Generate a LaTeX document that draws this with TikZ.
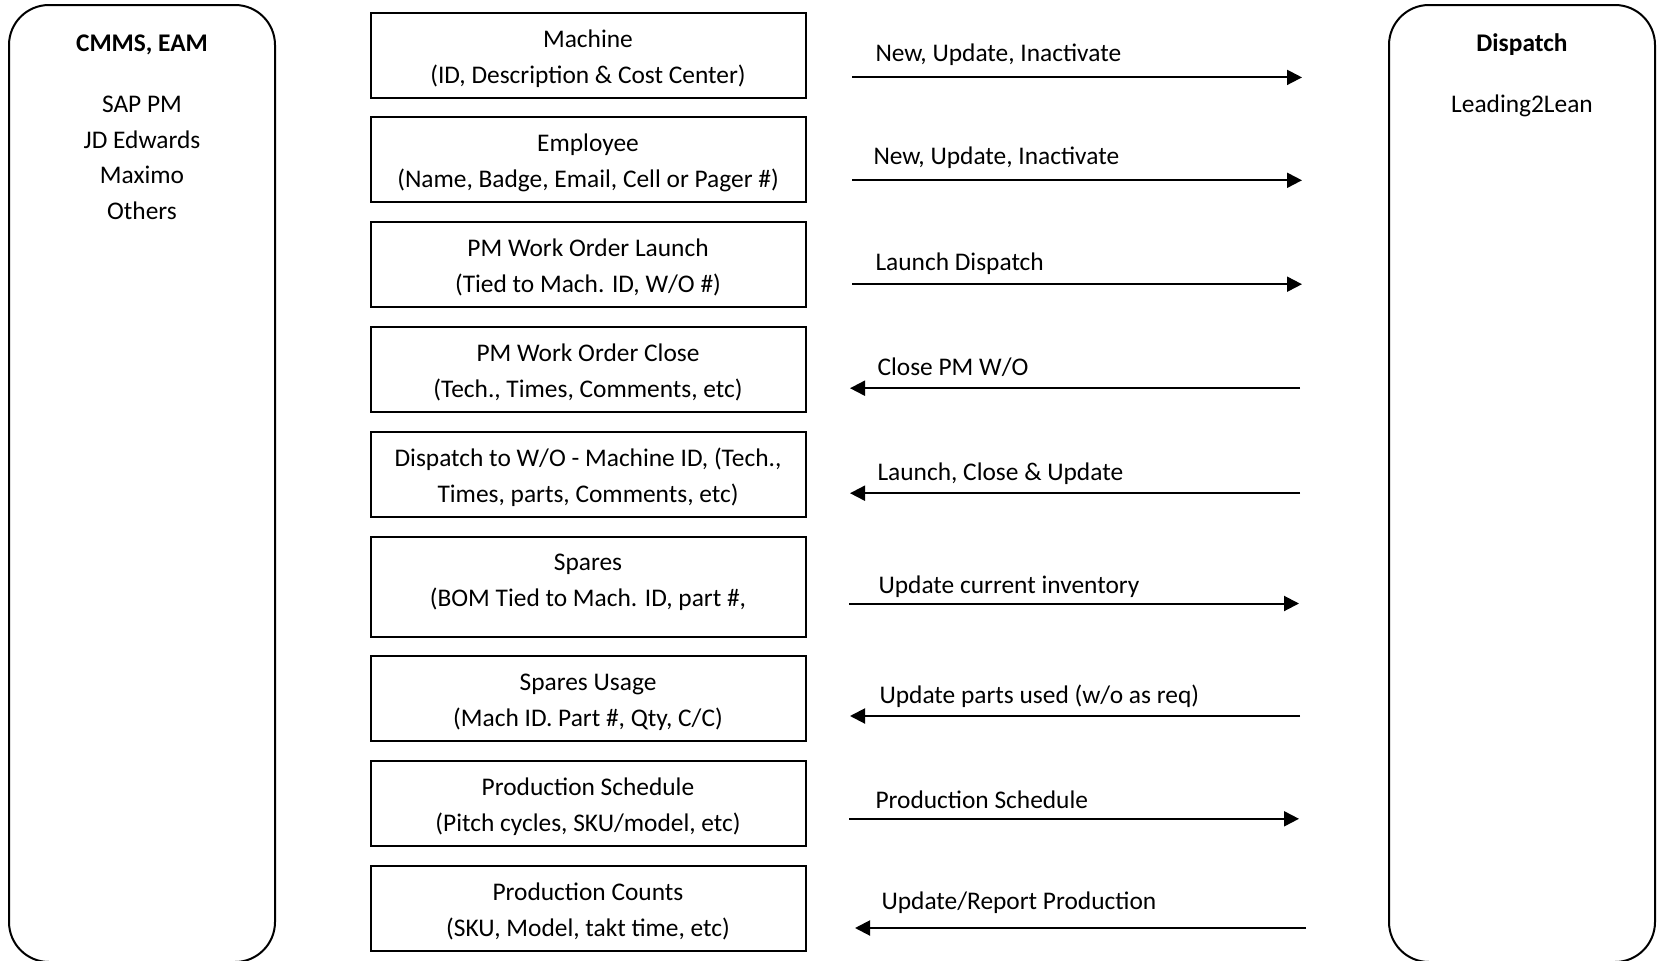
\documentclass[tikz,border=0pt]{standalone}
\usepackage{fontspec}
\setmainfont{Carlito}
\usetikzlibrary{arrows.meta}
\begin{document}
\begin{tikzpicture}[x=1pt, y=-1pt,
    every node/.style={font=\fontsize{25.4}{36}\selectfont},
    panel/.style={draw, line width=2pt, rounded corners=40pt},
    caja/.style={draw, line width=2pt, minimum width=435pt, minimum height=85pt, align=center, inner sep=0pt,
        text height=62pt, text depth=6pt},
    flujo/.style={line width=2pt, -{Triangle[length=15pt,width=15pt]}},
    etiqueta/.style={anchor=base west}]
    \useasboundingbox (0,0) rectangle (1663,961);
    % Sistemas
    \draw[panel] (9,5) rectangle (275,962);
    \draw[panel] (1389,5) rectangle (1655,962);
    \node (cmms) at (142,45) {\bfseries CMMS, EAM};
    \node[align=center, font=\fontsize{25.4}{35.5}\selectfont] (erp) at (142,158) {SAP PM\\JD Edwards\\Maximo\\Others};
    \node (disp) at (1522,45) {\bfseries Dispatch};
    \node (l2l) at (1522,106) {Leading2Lean};
    % Datos
    \node[caja] (machine) at (588,55.2) {Machine\\(ID, Description \& Cost Center)};
    \node[caja] (employee) at (588,159.1) {Employee\\(Name, Badge, Email, Cell or Pager \#)};
    \node[caja] (pmlaunch) at (588,264.6) {PM Work Order Launch\\(Tied to Mach. ID, W/O \#)};
    \node[caja] (pmclose) at (588,369.7) {PM Work Order Close\\(Tech., Times, Comments, etc)};
    \node[caja] (wo) at (588,474.7) {Dispatch to W/O - Machine ID, (Tech.,\\Times, parts, Comments, etc)};
    \node[caja, minimum height=100pt, text height=0pt, text depth=0pt] (spares) at (588,586.5) {};
    \node[align=center] (sparestxt) at (588,582.4) {Spares\\(BOM Tied to Mach. ID, part \#,};
    \node[caja] (usage) at (588,698.5) {Spares Usage\\(Mach ID. Part \#, Qty, C/C)};
    \node[caja] (schedule) at (588,803.5) {Production Schedule\\(Pitch cycles, SKU/model, etc)};
    \node[caja] (counts) at (588,908.5) {Production Counts\\(SKU, Model, takt time, etc)};
    % Flechas
    \coordinate (a1) at (852,77.4);  \coordinate (b1) at (1302,77.4);
    \coordinate (a2) at (852,180.3); \coordinate (b2) at (1302,180.3);
    \coordinate (a3) at (852,284.2); \coordinate (b3) at (1302,284.2);
    \coordinate (a4) at (850,388.2); \coordinate (b4) at (1300,388.2);
    \coordinate (a5) at (850,493.2); \coordinate (b5) at (1300,493.2);
    \coordinate (a6) at (849,603.5); \coordinate (b6) at (1299,603.5);
    \coordinate (a7) at (850,716);   \coordinate (b7) at (1300,716);
    \coordinate (a8) at (849,818.8); \coordinate (b8) at (1299,818.8);
    \coordinate (a9) at (855,928);   \coordinate (b9) at (1306,928);
    \draw[flujo] (a1) -- (b1);
    \draw[flujo] (a2) -- (b2);
    \draw[flujo] (a3) -- (b3);
    \draw[flujo] (b4) -- (a4);
    \draw[flujo] (b5) -- (a5);
    \draw[flujo] (a6) -- (b6);
    \draw[flujo] (b7) -- (a7);
    \draw[flujo] (a8) -- (b8);
    \draw[flujo] (b9) -- (a9);
    % Etiquetas
    \node[etiqueta] (t1) at ([xshift=20pt,yshift=15.6pt]a1) {New, Update, Inactivate};
    \node[etiqueta] (t2) at ([xshift=18pt,yshift=15.6pt]a2) {New, Update, Inactivate};
    \node[etiqueta] (t3) at ([xshift=20pt,yshift=13.5pt]a3) {Launch Dispatch};
    \node[etiqueta] (t4) at ([xshift=24pt,yshift=12.4pt]a4) {Close PM W/O};
    \node[etiqueta] (t5) at ([xshift=24pt,yshift=12.4pt]a5) {Launch, Close \& Update};
    \node[etiqueta] (t6) at ([xshift=26pt,yshift=10.3pt]a6) {Update current inventory};
    \node[etiqueta] (t7) at ([xshift=26pt,yshift=12.4pt]a7) {Update parts used (w/o as req)};
    \node[etiqueta] (t8) at ([xshift=23pt,yshift=10.3pt]a8) {Production Schedule};
    \node[etiqueta] (t9) at ([xshift=23pt,yshift=18.8pt]a9) {Update/Report Production};
\end{tikzpicture}
\end{document}
